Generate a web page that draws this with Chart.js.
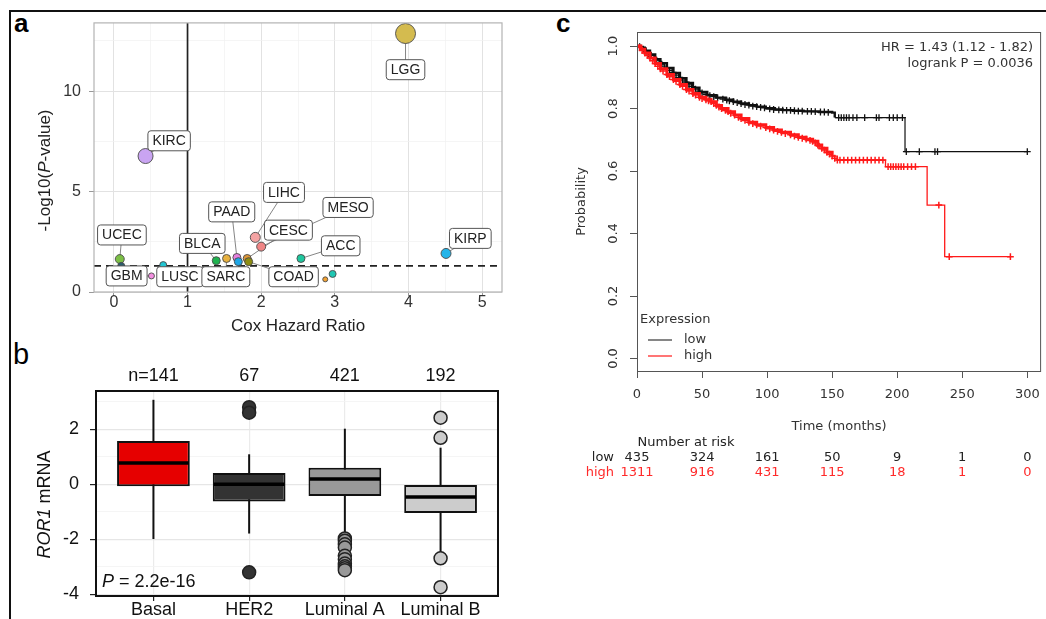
<!DOCTYPE html>
<html>
<head>
<meta charset="utf-8">
<title>ROR1 expression and survival</title>
<script src="https://cdn.jsdelivr.net/npm/chart.js@4.4.0/dist/chart.umd.min.js"></script>
<style>
  body { margin: 0; background: #fff; width: 1046px; height: 619px; position: relative; overflow: hidden; }
  canvas, .line, .tag { position: absolute; }
  .line { background: #111; }
  .tag { font-family: "Liberation Sans", Arial, sans-serif; line-height: 1; color: #000; }
</style>
</head>
<body>
<div class="line" style="left:9px;top:10px;width:1037px;height:2px"></div>
<div class="line" style="left:9px;top:10px;width:2px;height:609px"></div>
<div class="tag" style="left:14px;top:10px;font-size:26px;font-weight:bold">a</div>
<div class="tag" style="left:13px;top:340px;font-size:29px">b</div>
<div class="tag" style="left:556px;top:10px;font-size:26px;font-weight:bold">c</div>

<canvas id="chartA" width="540" height="325" style="left:10px;top:12px"></canvas>
<canvas id="chartB" width="530" height="274" style="left:10px;top:345px"></canvas>
<canvas id="chartC" width="486" height="480" style="left:560px;top:12px"></canvas>

<script>
// ---------- panel a: Cox hazard ratio vs -log10(P) per cancer type
const hazardRatio = [3.96, 0.43, 4.51, 0.08, 0.10, 0.51, 0.67, 1.39, 1.53, 1.67, 1.69, 1.81, 1.83, 1.92, 2.00, 2.54, 2.87, 2.97];
const negLog10P   = [12.87, 6.77, 1.92, 1.64, 1.30, 0.80, 1.34, 1.56, 1.67, 1.72, 1.51, 1.67, 1.51, 2.72, 2.26, 1.67, 0.63, 0.90];
const pointColor  = ['#d4bb4f', '#c9a4f2', '#23b4e9', '#7bbf45', '#2d5c6e', '#f28fe0', '#22c6d3', '#1fb34f', '#e7b13f',
                     '#e47fdd', '#1ea6e6', '#dc9637', '#8d8d12', '#f4a3a3', '#ef8585', '#1ec79e', '#f2a233', '#1fc7b3'];
const pointSize   = [10, 7.5, 5, 4.5, 3.5, 3, 3.5, 4, 4, 4, 4, 4, 4, 5, 4.5, 4, 2.5, 3.5];
const labelText   = ['LGG', 'KIRC', 'KIRP', 'UCEC', 'GBM', 'LUSC', 'BLCA', 'SARC', 'PAAD', 'CESC', 'COAD', 'LIHC', 'MESO', 'ACC'];
const labelPoint  = [0, 1, 2, 3, 5, 6, 7, 8, 9, 11, 12, 13, 14, 15];
const labelX      = [3.96, 0.75, 4.84, 0.109, 0.173, 0.897, 1.20, 1.52, 1.60, 2.37, 2.44, 2.31, 3.18, 3.08];
const labelY      = [11.07, 7.53, 2.67, 2.84, 0.80, 0.76, 2.42, 0.76, 3.99, 3.08, 0.76, 4.96, 4.21, 2.30];
const hrOne = 1;
const pCutoff = 1.3;
const xTicksA = [0, 0.5, 1, 1.5, 2, 2.5, 3, 3.5, 4, 4.5, 5];
const yTicksA = [0, 2.5, 5, 7.5, 10, 12.5];

// ---------- panel b: ROR1 mRNA by PAM50 subtype
const subtypes    = ['Basal', 'HER2', 'Luminal A', 'Luminal B'];
const subtypeN    = ['n=141', '67', '421', '192'];
const boxQ1       = [-0.07, -0.63, -0.43, -1.04];
const boxMedian   = [0.77, 0.00, 0.19, -0.46];
const boxQ3       = [1.57, 0.41, 0.60, 0.00];
const whiskerLow  = [-1.99, -1.79, -1.91, -2.51];
const whiskerHigh = [3.07, 1.09, 2.02, 1.33];
const outliers    = [[], [2.80, 2.60, -3.20],
                     [-1.97, -2.05, -2.18, -2.30, -2.60, -2.72, -2.88, -2.98, -3.05, -3.12],
                     [2.42, 1.69, -2.69, -3.74]];
const boxColor    = ['#e60000', '#333333', '#999999', '#cccccc'];
const yTicksB     = [-4, -3, -2, -1, 0, 1, 2, 3];
const pText       = '= 2.2e-16';

// ---------- panel c: Kaplan-Meier, low vs high ROR1
const kmGroups   = ['low', 'high'];
const timeTicks  = [0, 50, 100, 150, 200, 250, 300];
const probTicks  = [0, 0.2, 0.4, 0.6, 0.8, 1.0];
const lowCurve   = [[0,1],[3,0.995],[6,0.985],[10,0.973],[14,0.958],[18,0.945],[23,0.93],[28,0.914],[33,0.897],
                    [38,0.882],[43,0.867],[48,0.853],[54,0.843],[61,0.835],[68,0.828],[74,0.822],[80,0.816],
                    [86,0.811],[92,0.806],[99,0.801],[106,0.797],[112,0.795],[120,0.793],[128,0.791],[140,0.789],
                    [150,0.787],[152,0.771],[206,0.662],[300,0.662]];
const highCurve  = [[0,1],[3,0.99],[6,0.978],[10,0.962],[14,0.944],[18,0.927],[23,0.909],[28,0.893],[33,0.877],
                    [38,0.861],[43,0.848],[48,0.836],[53,0.828],[57,0.822],[61,0.81],[65,0.8],[70,0.79],[75,0.779],
                    [80,0.768],[86,0.756],[92,0.748],[99,0.739],[105,0.731],[111,0.724],[118,0.716],[124,0.708],
                    [130,0.702],[135,0.695],[139,0.683],[142,0.673],[146,0.66],[150,0.648],[154,0.635],[191,0.614],
                    [223,0.491],[236.5,0.326],[287,0.326]];
const lowCensor  = [[2,0.998],[5,0.99],[7,0.985],[9,0.975],[11,0.97],[13,0.962],[15,0.955],[17,0.948],[19,0.942],
                    [21,0.936],[23,0.93],[25,0.922],[27,0.916],[30,0.907],[32,0.9],[35,0.891],[37,0.885],[40,0.876],
                    [42,0.87],[45,0.862],[47,0.856],[50,0.85],[53,0.845],[56,0.841],[59,0.838],[62,0.834],[66,0.83],
                    [69,0.827],[71,0.825],[74,0.822],[77,0.819],[80,0.816],[83,0.813],[86,0.811],[89,0.808],[92,0.806],
                    [95,0.804],[98,0.802],[102,0.799],[105,0.797],[109,0.796],[112,0.795],[115,0.794],[118,0.794],
                    [121,0.793],[124,0.792],[127,0.792],[131,0.791],[134,0.791],[137,0.79],[141,0.789],[144,0.789],
                    [147,0.788],[155,0.771],[157,0.771],[159,0.771],[161,0.771],[163,0.771],[166,0.771],[169,0.771],
                    [175,0.771],[184,0.771],[186,0.771],[194,0.771],[197,0.771],[200,0.771],[204,0.771],[207,0.662],
                    [217,0.662],[229,0.662],[231,0.662],[300,0.662]];
const highCensor = [[2,0.995],[4,0.986],[6,0.978],[8,0.97],[10,0.962],[12,0.953],[14,0.944],[16,0.935],[18,0.927],
                    [20,0.92],[23,0.909],[25,0.902],[28,0.893],[30,0.887],[33,0.877],[35,0.871],[38,0.861],[40,0.856],
                    [43,0.848],[45,0.843],[48,0.836],[50,0.832],[53,0.828],[55,0.825],[57,0.822],[59,0.816],[61,0.81],
                    [63,0.805],[65,0.8],[68,0.794],[70,0.79],[72,0.785],[75,0.779],[78,0.772],[80,0.768],[83,0.762],
                    [86,0.756],[89,0.752],[92,0.748],[95,0.744],[99,0.739],[102,0.735],[105,0.731],[108,0.727],
                    [111,0.724],[114,0.72],[118,0.716],[121,0.712],[124,0.708],[127,0.705],[130,0.702],[133,0.698],
                    [135,0.695],[137,0.69],[139,0.683],[140,0.68],[142,0.673],[144,0.667],[146,0.66],[148,0.654],
                    [150,0.648],[152,0.641],[154,0.635],[156,0.635],[159,0.635],[162,0.635],[165,0.635],[168,0.635],
                    [171,0.635],[174,0.635],[177,0.635],[180,0.635],[183,0.635],[186,0.635],[189,0.635],[193,0.614],
                    [195,0.614],[197,0.614],[199,0.614],[201,0.614],[203,0.614],[205,0.614],[208,0.614],[211,0.614],
                    [214,0.614],[232,0.491],[240,0.326],[287,0.326]];
const riskLow    = [435, 324, 161, 50, 9, 1, 0];
const riskHigh   = [1311, 916, 431, 115, 18, 1, 0];
const hrText     = ['HR = 1.43 (1.12 - 1.82)', 'logrank P = 0.0036'];

const SANS = '"Liberation Sans", Arial, sans-serif';
const DEJA = '"DejaVu Sans", sans-serif';

// rich text centred at (x, y), optional rotation
function richText(ctx, parts, x, y, rotate, color) {
  ctx.save();
  ctx.translate(x, y);
  if (rotate) ctx.rotate(-Math.PI / 2);
  ctx.fillStyle = color || '#000';
  ctx.textBaseline = 'middle';
  ctx.textAlign = 'left';
  let total = 0;
  parts.forEach(p => { ctx.font = p[1]; total += ctx.measureText(p[0]).width; });
  let cx = -total / 2;
  parts.forEach(p => { ctx.font = p[1]; ctx.fillText(p[0], cx, 0); cx += ctx.measureText(p[0]).width; });
  ctx.restore();
}

function roundRect(ctx, x, y, w, h, r) {
  ctx.beginPath();
  ctx.moveTo(x + r, y);
  ctx.arcTo(x + w, y, x + w, y + h, r);
  ctx.arcTo(x + w, y + h, x, y + h, r);
  ctx.arcTo(x, y + h, x, y, r);
  ctx.arcTo(x, y, x + w, y, r);
  ctx.closePath();
}

// ---------------- panel a
const panelA = {
  id: 'panelA',
  beforeDatasetsDraw(chart) {
    const {ctx, chartArea: ca, scales: {x, y}} = chart;
    ctx.save();
    ctx.strokeStyle = '#222';
    ctx.lineWidth = 1.7;
    const vx = x.getPixelForValue(hrOne);
    ctx.beginPath(); ctx.moveTo(vx, ca.top); ctx.lineTo(vx, ca.bottom); ctx.stroke();
    const hy = y.getPixelForValue(pCutoff);
    ctx.setLineDash([7, 5]);
    ctx.beginPath(); ctx.moveTo(ca.left, hy); ctx.lineTo(ca.right, hy); ctx.stroke();
    ctx.setLineDash([]);
    ctx.strokeStyle = '#777';
    ctx.lineWidth = 0.9;
    labelText.forEach((t, i) => {
      const p = labelPoint[i];
      ctx.beginPath();
      ctx.moveTo(x.getPixelForValue(labelX[i]), y.getPixelForValue(labelY[i]));
      ctx.lineTo(x.getPixelForValue(hazardRatio[p]), y.getPixelForValue(negLog10P[p]));
      ctx.stroke();
    });
    ctx.restore();
  },
  afterDatasetsDraw(chart) {
    const {ctx, scales: {x, y}} = chart;
    ctx.save();
    ctx.font = '14px ' + SANS;
    ctx.textAlign = 'center';
    ctx.textBaseline = 'middle';
    labelText.forEach((t, i) => {
      const cx = x.getPixelForValue(labelX[i]);
      const cy = y.getPixelForValue(labelY[i]);
      const w = ctx.measureText(t).width + 9;
      const h = 20;
      roundRect(ctx, cx - w / 2, cy - h / 2, w, h, 3);
      ctx.fillStyle = '#fff';
      ctx.fill();
      ctx.strokeStyle = '#555';
      ctx.lineWidth = 1;
      ctx.stroke();
      ctx.fillStyle = '#222';
      ctx.fillText(t, cx, cy + 0.5);
    });
    ctx.restore();
  },
  afterDraw(chart) {
    const {ctx, chartArea: ca} = chart;
    ctx.save();
    ctx.strokeStyle = '#b3b3b3';
    ctx.lineWidth = 1.2;
    ctx.strokeRect(ca.left, ca.top, ca.right - ca.left, ca.bottom - ca.top);
    ctx.restore();
    richText(ctx, [['-Log10(', '17px ' + SANS], ['P', 'italic 17px ' + SANS], ['-value)', '17px ' + SANS]],
      ca.left - 49, (ca.top + ca.bottom) / 2 + 13, true, '#222');
  }
};

const isMajorA = (v, step) => Math.abs(v / step - Math.round(v / step)) < 1e-6;

new Chart(document.getElementById('chartA'), {
  type: 'scatter',
  data: {
    datasets: [{
      data: hazardRatio.map((v, i) => ({x: v, y: negLog10P[i]})),
      pointBackgroundColor: pointColor,
      pointBorderColor: '#4a4a4a',
      pointBorderWidth: 0.9,
      pointRadius: pointSize,
      pointHoverRadius: pointSize
    }]
  },
  options: {
    responsive: false,
    animation: false,
    layout: {padding: {top: 10, right: 48, left: 0, bottom: 0}},
    plugins: {legend: {display: false}, tooltip: {enabled: false}},
    scales: {
      x: {
        type: 'linear', min: -0.27, max: 5.27, bounds: 'data',
        afterBuildTicks: s => { s.ticks = xTicksA.map(v => ({value: v})); },
        afterFit: s => { s.height = 45; s.paddingLeft = 0; s.paddingRight = 0; },
        ticks: {
          autoSkip: false, maxRotation: 0, padding: -1, color: '#333',
          font: {family: SANS, size: 16, lineHeight: 1},
          callback: v => isMajorA(v, 1) ? String(v) : ''
        },
        grid: {
          color: c => isMajorA(c.tick.value, 1) ? '#e2e2e2' : '#f0f0f0',
          lineWidth: c => isMajorA(c.tick.value, 1) ? 1 : 0.7,
          tickColor: c => isMajorA(c.tick.value, 1) ? '#999' : 'rgba(0,0,0,0)',
          tickLength: 4
        },
        border: {display: false},
        title: {display: true, text: 'Cox Hazard Ratio', color: '#222', padding: 0, font: {family: SANS, size: 17}}
      },
      y: {
        type: 'linear', min: 0, max: 13.4, bounds: 'data',
        afterBuildTicks: s => { s.ticks = yTicksA.map(v => ({value: v})); },
        afterFit: s => { s.width = 84; s.paddingTop = 0; s.paddingBottom = 0; },
        ticks: {
          padding: 8, color: '#333',
          font: {family: SANS, size: 16, lineHeight: 1},
          callback: v => isMajorA(v, 5) ? String(v) : ''
        },
        grid: {
          color: c => isMajorA(c.tick.value, 5) ? '#e2e2e2' : '#f0f0f0',
          lineWidth: c => isMajorA(c.tick.value, 5) ? 1 : 0.7,
          tickColor: c => isMajorA(c.tick.value, 5) ? '#999' : 'rgba(0,0,0,0)',
          tickLength: 5
        },
        border: {display: false}
      }
    }
  },
  plugins: [panelA]
});

// ---------------- panel b
const panelB = {
  id: 'panelB',
  beforeDatasetsDraw(chart) {
    const {ctx, scales: {x, y}} = chart;
    ctx.save();
    ctx.strokeStyle = '#111';
    ctx.lineWidth = 2;
    subtypes.forEach((s, i) => {
      const px = x.getPixelForValue(i + 1);
      ctx.beginPath();
      ctx.moveTo(px, y.getPixelForValue(whiskerLow[i]));
      ctx.lineTo(px, y.getPixelForValue(whiskerHigh[i]));
      ctx.stroke();
    });
    ctx.restore();
  },
  afterDatasetDraw(chart, args) {
    if (args.index !== 0) return;
    const {ctx, scales: {y}} = chart;
    const bars = chart.getDatasetMeta(0).data;
    ctx.save();
    ctx.strokeStyle = '#000';
    ctx.lineWidth = 3.5;
    bars.forEach((b, i) => {
      const my = y.getPixelForValue(boxMedian[i]);
      ctx.beginPath();
      ctx.moveTo(b.x - b.width / 2 + 1, my);
      ctx.lineTo(b.x + b.width / 2 - 1, my);
      ctx.stroke();
    });
    ctx.restore();
  },
  afterDraw(chart) {
    const {ctx, chartArea: ca, scales: {x}} = chart;
    ctx.save();
    ctx.strokeStyle = '#111';
    ctx.lineWidth = 2;
    ctx.strokeRect(ca.left, ca.top, ca.right - ca.left, ca.bottom - ca.top);
    ctx.fillStyle = '#111';
    ctx.font = '18px ' + SANS;
    ctx.textAlign = 'center';
    ctx.textBaseline = 'middle';
    subtypeN.forEach((t, i) => ctx.fillText(t, x.getPixelForValue(i + 1), ca.top - 15));
    ctx.restore();
    const pw = (() => { ctx.font = 'italic 18px ' + SANS; const a = ctx.measureText('P ').width; ctx.font = '18px ' + SANS; return a + ctx.measureText(pText).width; })();
    richText(ctx, [['P ', 'italic 18px ' + SANS], [pText, '18px ' + SANS]], ca.left + 6 + pw / 2, ca.bottom - 14, false, '#111');
    richText(ctx, [['ROR1', 'italic 18px ' + SANS], [' mRNA', '18px ' + SANS]],
      ca.left - 51, (ca.top + ca.bottom) / 2 + 11, true, '#111');
  }
};

const outlierPoints = [];
const outlierColors = [];
outliers.forEach((vals, i) => vals.forEach(v => { outlierPoints.push({x: i + 1, y: v}); outlierColors.push(boxColor[i]); }));

new Chart(document.getElementById('chartB'), {
  type: 'bar',
  data: {
    datasets: [{
      data: subtypes.map((s, i) => ({x: i + 1, y: [boxQ1[i], boxQ3[i]]})),
      backgroundColor: boxColor,
      borderColor: '#111',
      borderWidth: 2,
      borderSkipped: false,
      categoryPercentage: 1,
      barPercentage: 0.76,
      order: 1
    }, {
      type: 'scatter',
      data: outlierPoints,
      pointBackgroundColor: outlierColors,
      pointBorderColor: '#222',
      pointBorderWidth: 1.5,
      pointRadius: 6.5,
      pointHoverRadius: 6.5,
      order: 0
    }]
  },
  options: {
    responsive: false,
    animation: false,
    layout: {padding: {top: 46, right: 42, left: 0, bottom: 0}},
    plugins: {legend: {display: false}, tooltip: {enabled: false}},
    scales: {
      x: {
        type: 'linear', min: 0.4, max: 4.6, bounds: 'data', offset: false,
        afterBuildTicks: s => { s.ticks = subtypes.map((c, i) => ({value: i + 1})); },
        afterFit: s => { s.height = 23; s.paddingLeft = 0; s.paddingRight = 0; },
        ticks: {
          autoSkip: false, maxRotation: 0, padding: 0, color: '#111',
          font: {family: SANS, size: 18, lineHeight: 1},
          callback: v => subtypes[Math.round(v) - 1]
        },
        grid: {color: '#ebebeb', lineWidth: 1.2, tickColor: '#222', tickLength: 5, offset: false},
        border: {display: false}
      },
      y: {
        type: 'linear', min: -4.06, max: 3.39, bounds: 'data',
        afterBuildTicks: s => { s.ticks = yTicksB.map(v => ({value: v})); },
        afterFit: s => { s.width = 86; s.paddingTop = 0; s.paddingBottom = 0; },
        ticks: {
          padding: 11, color: '#111',
          font: {family: SANS, size: 18, lineHeight: 1},
          callback: v => v % 2 === 0 ? String(v) : ''
        },
        grid: {
          color: c => c.tick.value % 2 === 0 ? '#e6e6e6' : '#f2f2f2',
          lineWidth: c => c.tick.value % 2 === 0 ? 1.2 : 0.8,
          tickColor: c => c.tick.value % 2 === 0 ? '#222' : 'rgba(0,0,0,0)',
          tickLength: 6
        },
        border: {display: false}
      }
    }
  },
  plugins: [panelB]
});

// ---------------- panel c
const panelC = {
  id: 'panelC',
  afterDraw(chart) {
    const {ctx, chartArea: ca, scales: {x}} = chart;
    ctx.save();
    ctx.strokeStyle = '#555';
    ctx.lineWidth = 1;
    ctx.strokeRect(ca.left + 0.5, ca.top + 0.5, ca.right - ca.left - 1, ca.bottom - ca.top);

    ctx.font = '13px ' + DEJA;
    ctx.textBaseline = 'middle';
    ctx.fillStyle = '#333';
    ctx.textAlign = 'right';
    ctx.fillText(hrText[0], ca.right - 8, ca.top + 16);
    ctx.fillText(hrText[1], ca.right - 8, ca.top + 32);

    // legend
    ctx.textAlign = 'left';
    ctx.fillText('Expression', ca.left + 3, ca.bottom - 51);
    const legendColors = ['#444', '#ff2a2a'];
    kmGroups.forEach((g, i) => {
      const ly = ca.bottom - 31 + i * 16;
      ctx.strokeStyle = legendColors[i];
      ctx.lineWidth = 1.3;
      ctx.beginPath(); ctx.moveTo(ca.left + 11, ly); ctx.lineTo(ca.left + 35, ly); ctx.stroke();
      ctx.fillStyle = '#333';
      ctx.fillText(g, ca.left + 47, ly);
    });

    // number at risk
    ctx.textAlign = 'center';
    ctx.fillStyle = '#222';
    ctx.fillText('Number at risk', ca.left + 49, ca.bottom + 72);
    const rows = [[riskLow, '#222', ca.bottom + 87], [riskHigh, '#ff2a2a', ca.bottom + 102]];
    rows.forEach(([vals, col, ry], r) => {
      ctx.fillStyle = col;
      ctx.textAlign = 'right';
      ctx.fillText(kmGroups[r], ca.left - 23, ry);
      ctx.textAlign = 'center';
      vals.forEach((v, i) => ctx.fillText(String(v), x.getPixelForValue(timeTicks[i]), ry));
    });
    ctx.restore();
  }
};

const toXY = arr => arr.map(([t, p]) => ({x: t, y: p}));
const denseWidth = (wide, thin) => ({borderWidth: c => c.p1.parsed.x <= 152 ? wide : thin});

new Chart(document.getElementById('chartC'), {
  type: 'line',
  data: {
    datasets: [{
      label: kmGroups[0], data: toXY(lowCurve), stepped: true, borderColor: '#111', borderWidth: 1.2,
      segment: denseWidth(2.4, 1.2), pointRadius: 0, order: 3
    }, {
      label: kmGroups[1], data: toXY(highCurve), stepped: true, borderColor: '#ff1a1a', borderWidth: 1.3,
      segment: denseWidth(3, 1.3), pointRadius: 0, order: 1
    }, {
      type: 'scatter', data: toXY(lowCensor), pointStyle: 'cross', pointRadius: 3.4, pointHoverRadius: 3.4,
      pointBorderColor: '#111', pointBorderWidth: 1.3, order: 2
    }, {
      type: 'scatter', data: toXY(highCensor), pointStyle: 'cross', pointRadius: 3.4, pointHoverRadius: 3.4,
      pointBorderColor: '#ff1a1a', pointBorderWidth: 1.5, order: 0
    }]
  },
  options: {
    responsive: false,
    animation: false,
    layout: {padding: {top: 20, right: 1, left: 0, bottom: 58}},
    plugins: {legend: {display: false}, tooltip: {enabled: false}},
    scales: {
      x: {
        type: 'linear', min: 0, max: 310.6, bounds: 'data',
        afterBuildTicks: s => { s.ticks = timeTicks.map(v => ({value: v})); },
        afterFit: s => { s.height = 63; s.paddingLeft = 0; s.paddingRight = 0; },
        ticks: {autoSkip: false, maxRotation: 0, padding: 10, color: '#333', font: {family: DEJA, size: 13, lineHeight: 1}},
        grid: {drawOnChartArea: false, tickColor: '#555', tickLength: 7},
        border: {display: false},
        title: {display: true, text: 'Time (months)', color: '#333', padding: 0, font: {family: DEJA, size: 13}}
      },
      y: {
        type: 'linear', min: -0.04, max: 1.045, bounds: 'data',
        afterBuildTicks: s => { s.ticks = probTicks.map(v => ({value: v})); },
        afterFit: s => { s.width = 77; s.paddingTop = 0; s.paddingBottom = 0; },
        ticks: {
          padding: 6, color: '#333', minRotation: 90, maxRotation: 90, crossAlign: 'center',
          font: {family: DEJA, size: 13, lineHeight: 1},
          callback: v => v.toFixed(1)
        },
        grid: {drawOnChartArea: false, tickColor: '#555', tickLength: 7},
        border: {display: false},
        title: {display: true, text: 'Probability', color: '#333', padding: {top: 14, bottom: 0}, font: {family: DEJA, size: 13}}
      }
    }
  },
  plugins: [panelC]
});
</script>
</body>
</html>
